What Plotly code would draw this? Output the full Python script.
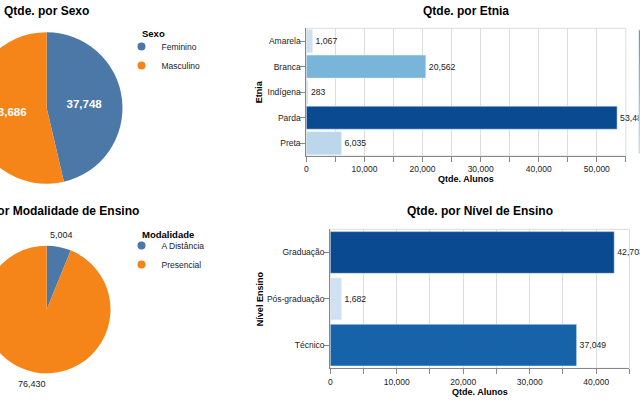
import math
import plotly.graph_objects as go

# ---------------- data ----------------
sexo_labels = ["Feminino", "Masculino"]
sexo_values = [37748, 43686]
modal_labels = ["A Distância", "Presencial"]
modal_values = [5004, 76430]
etnia_labels = ["Amarela", "Branca", "Indígena", "Parda", "Preta"]
etnia_values = [1067, 20562, 283, 53487, 6035]
nivel_labels = ["Graduação", "Pós-graduação", "Técnico"]
nivel_values = [42703, 1682, 37049]

cat_colors = ["#4c78a8", "#f58518"]
blues_hex = ["#cfe1f2", "#bed8ec", "#a8cee5", "#8fc1de", "#74b2d7", "#5ba3cf",
             "#4592c6", "#3181bd", "#206fb2", "#125ca4", "#0a4a90"]
blues = [[i / (len(blues_hex) - 1), c] for i, c in enumerate(blues_hex)]

FONT = "Liberation Sans, Arial, sans-serif"
SHIFT = 80          # part of the figure hidden to the left of the window
W, H = 780, 400


def fx(sx):
    return (sx + SHIFT) / W


def fy(sy):
    return 1 - sy / H


fig = go.Figure()

# ---------------- pies ----------------
P1_CX, P1_CY, P1_R = 45, 108, 76
P2_CX, P2_CY, P2_R, P2_LABEL_R = 45, 309.5, 64, 76

fig.add_trace(go.Pie(
    labels=sexo_labels, values=sexo_values, sort=False, direction="clockwise",
    rotation=0, marker=dict(colors=cat_colors), showlegend=False,
    texttemplate="%{value:,}", textposition="inside", insidetextorientation="horizontal",
    insidetextfont=dict(color="white", size=11.5, family=FONT, weight="bold"),
    domain=dict(x=[fx(P1_CX - P1_R), fx(P1_CX + P1_R)], y=[fy(P1_CY + P1_R), fy(P1_CY - P1_R)]),
    hoverinfo="label+value",
))
fig.add_trace(go.Pie(
    labels=modal_labels, values=modal_values, sort=False, direction="clockwise",
    rotation=0, marker=dict(colors=cat_colors), showlegend=False,
    textinfo="none",
    domain=dict(x=[fx(P2_CX - P2_R), fx(P2_CX + P2_R)], y=[fy(P2_CY + P2_R), fy(P2_CY - P2_R)]),
    hoverinfo="label+value",
))
# outer value labels at the slice mid-angles (clockwise from 12 o'clock)
total = sum(modal_values)
cum = 0
for v in modal_values:
    mid = (cum + v / 2) / total * 2 * math.pi
    cum += v
    sx = P2_CX + P2_LABEL_R * math.sin(mid)
    sy = P2_CY - P2_LABEL_R * math.cos(mid)
    fig.add_annotation(text=f"{v:,}", x=fx(sx), y=fy(sy), xref="paper", yref="paper",
                       xanchor="center", yanchor="middle", showarrow=False,
                       font=dict(size=9, color="#222", family=FONT))

# legend entries (circle symbols)
for lab, col in zip(sexo_labels, cat_colors):
    fig.add_trace(go.Scatter(x=[None], y=[None], mode="markers", name=lab,
                             marker=dict(color=col, size=8, symbol="circle"),
                             legend="legend", xaxis="x", yaxis="y", hoverinfo="skip"))
for lab, col in zip(modal_labels, cat_colors):
    fig.add_trace(go.Scatter(x=[None], y=[None], mode="markers", name=lab,
                             marker=dict(color=col, size=8, symbol="circle"),
                             legend="legend2", xaxis="x", yaxis="y", hoverinfo="skip"))

# ---------------- bars ----------------
fig.add_trace(go.Bar(
    y=etnia_labels, x=etnia_values, orientation="h", xaxis="x", yaxis="y",
    marker=dict(color=etnia_values, colorscale=blues, cmin=min(etnia_values),
                cmax=max(etnia_values), showscale=True,
                colorbar=dict(x=fx(639), xanchor="left", xpad=0, y=fy(30), yanchor="top",
                              ypad=0, lenmode="pixels", len=123, thickness=16,
                              outlinewidth=1, outlinecolor="#ccd9e6",
                              tickfont=dict(size=8.5, family=FONT))),
    texttemplate="%{x:,}", textposition="outside", cliponaxis=False, constraintext="none",
    textfont=dict(size=8.7, color="#222", family=FONT), showlegend=False,
))
fig.add_trace(go.Bar(
    y=nivel_labels, x=nivel_values, orientation="h", xaxis="x2", yaxis="y2",
    marker=dict(color=nivel_values, colorscale=blues, cmin=min(nivel_values),
                cmax=max(nivel_values), showscale=False),
    texttemplate="%{x:,}", textposition="outside", cliponaxis=False, constraintext="none",
    textfont=dict(size=8.7, color="#222", family=FONT), showlegend=False,
))

xcommon = dict(dtick=10000, tickformat=",", ticks="outside", ticklen=5, tickcolor="#888",
               showline=True, linecolor="#888", showgrid=True, gridcolor="#ddd",
               zeroline=False, tickfont=dict(size=8.5, family=FONT, color="#222"),
               minor=dict(dtick=5000, showgrid=True, gridcolor="#ddd", ticks="outside",
                          ticklen=5, tickcolor="#888"))
ycommon = dict(type="category", autorange="reversed", ticks="outside", ticklen=5,
               tickcolor="#888", showline=True, linecolor="#888", showgrid=False,
               ticklabelstandoff=-2,
               tickfont=dict(size=8.5, family=FONT, color="#222"))

fig.update_layout(
    width=W, height=H, margin=dict(l=0, r=0, t=0, b=0),
    paper_bgcolor="white", plot_bgcolor="white",
    font=dict(family=FONT, color="#000"),
    bargap=0.1,
    xaxis=dict(domain=[fx(305.3), fx(625.7)], range=[0, 55000], anchor="y", **xcommon),
    yaxis=dict(domain=[fy(156), fy(28.3)], anchor="x", **ycommon),
    xaxis2=dict(domain=[fx(329.3), fx(629.3)], range=[0, 45000], anchor="y2", **xcommon),
    yaxis2=dict(domain=[fy(368.3), fy(229.3)], anchor="x2", **ycommon),
    legend=dict(x=fx(120), y=fy(32), xanchor="left", yanchor="top",
                font=dict(size=8.5, family=FONT, color="#222"), bgcolor="rgba(0,0,0,0)"),
    legend2=dict(x=fx(120), y=fy(231), xanchor="left", yanchor="top",
                 font=dict(size=8.5, family=FONT, color="#222"), bgcolor="rgba(0,0,0,0)"),
    shapes=[
        dict(type="rect", xref="x domain", yref="y domain", x0=0, x1=1, y0=0, y1=1,
             line=dict(color="#ddd", width=1), layer="below"),
        dict(type="rect", xref="x2 domain", yref="y2 domain", x0=0, x1=1, y0=0, y1=1,
             line=dict(color="#ddd", width=1), layer="below"),
    ],
)

titles = [
    ("Qtde. por Sexo", 45, 11, 12, 0, "center"),
    ("Qtde. por Modalidade de Ensino", 46, 211, 12, 0, "center"),
    ("Qtde. por Etnia", 465, 11, 12, 0, "center"),
    ("Qtde. por Nível de Ensino", 479, 211, 12, 0, "center"),
    ("Qtde. Alunos", 465, 179, 9, 0, "center"),
    ("Qtde. Alunos", 479, 392, 9, 0, "center"),
    ("Etnia", 258, 92, 9, -90, "center"),
    ("Nível Ensino", 259, 299, 9, -90, "center"),
    ("Sexo", 139, 33, 9.5, 0, "left"),
    ("Modalidade", 139, 234, 9.5, 0, "left"),
]
for text, sx, sy, size, ang, anc in titles:
    fig.add_annotation(text=text, x=fx(sx), y=fy(sy), xref="paper", yref="paper",
                       xanchor=anc, yanchor="middle", showarrow=False, textangle=ang,
                       font=dict(size=size, weight="bold", family=FONT, color="#000"))

post = ("document.body.style.margin='0';document.body.style.overflow='hidden';"
        "document.documentElement.style.overflow='hidden';"
        "var gd=document.getElementById('{plot_id}');gd.style.marginLeft='-%dpx';" % SHIFT)
fig.write_html("out.html", post_script=post, config={"displayModeBar": False})
